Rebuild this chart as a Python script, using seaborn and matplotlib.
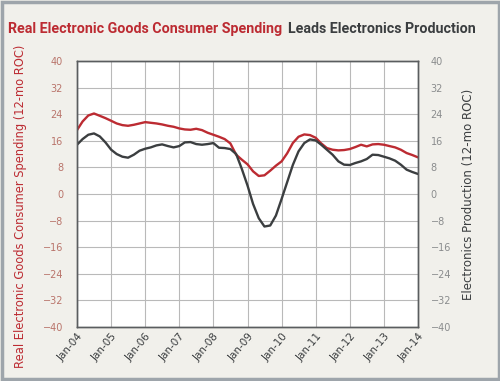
import pandas as pd
import numpy as np
import seaborn as sns
import matplotlib
matplotlib.use('Agg')
import matplotlib.pyplot as plt
import matplotlib.dates as mdates
from matplotlib.patches import Rectangle

sns.set_style('white')
plt.rcParams['font.family'] = ['DejaVu Sans']

# bimonthly readings, Jan-04 .. Jan-14 (12-mo rate of change, %)
months = pd.date_range('2004-01-01', '2014-01-01', freq='2MS')
spending = [19.2, 21.8, 23.6, 24.2, 23.5, 22.8, 22.0, 21.2, 20.7, 20.5,
            20.8, 21.2, 21.6, 21.4, 21.2, 20.9, 20.5, 20.2, 19.7, 19.4,
            19.3, 19.6, 19.2, 18.4, 17.8, 17.2, 16.5, 15.2, 11.8, 10.3,
            8.9, 6.8, 5.4, 5.6, 7.0, 8.5, 9.8, 12.2, 15.3, 17.2,
            17.9, 17.7, 16.9, 15.2, 13.8, 13.3, 13.1, 13.2, 13.5, 14.1,
            14.8, 14.3, 14.9, 15.0, 14.8, 14.4, 14.0, 13.3, 12.3, 11.7, 11.0]
production = [14.8, 16.5, 17.8, 18.2, 17.3, 15.5, 13.3, 12.0, 11.2, 10.9,
              11.8, 13.0, 13.6, 14.0, 14.6, 14.9, 14.4, 14.0, 14.4, 15.5,
              15.6, 15.0, 14.8, 15.0, 15.3, 13.9, 13.8, 13.5, 12.0, 7.5,
              2.5, -3.0, -7.3, -9.8, -9.5, -6.5, -1.5, 3.5, 8.7, 12.8,
              15.3, 16.4, 16.1, 14.8, 13.3, 11.8, 9.8, 8.8, 8.7, 9.3,
              9.8, 10.5, 11.8, 11.7, 11.2, 10.7, 10.0, 8.8, 7.3, 6.6, 6.0]
yticks = list(range(-40, 41, 8))

df = pd.DataFrame({'date': months, 'spending': spending, 'production': production})

red = '#bc2b32'
dark = '#3b3e40'
bg = '#f1f0eb'

fig = plt.figure(figsize=(5, 3.81), dpi=100)
fig.patch.set_facecolor(bg)
fig.patches.append(Rectangle((0.003, 0.004), 0.994, 0.992, transform=fig.transFigure,
                             fill=False, edgecolor='#9ea5ab', linewidth=2.5))

ax = fig.add_axes([0.154, 0.142, 0.682, 0.698])
ax.set_facecolor('white')
ax2 = ax.twinx()

sns.lineplot(ax=ax, x='date', y='spending', data=df, color=red, linewidth=1.7)
sns.lineplot(ax=ax2, x='date', y='production', data=df, color=dark, linewidth=1.7)

for a in (ax, ax2):
    a.set_ylim(-40, 40)
    a.set_yticks(yticks)
ax.set_xlim(pd.Timestamp('2004-01-01'), pd.Timestamp('2014-01-01'))
ax.xaxis.set_major_locator(mdates.YearLocator())
ax.xaxis.set_major_formatter(mdates.DateFormatter('%b-%y'))

ax.grid(True, color='#b9b9b9', linewidth=0.8)
ax.set_axisbelow(True)
ax2.grid(False)
for s in list(ax.spines.values()) + list(ax2.spines.values()):
    s.set_color('#5a5d5f')
    s.set_linewidth(1.0)

ax.tick_params(axis='y', labelcolor='#b9746b', labelsize=7, length=0, pad=10)
ax2.tick_params(axis='y', labelcolor='#8a8c8d', labelsize=7, length=0, pad=9)
ax.tick_params(axis='x', labelcolor=dark, labelsize=7.5, length=0, pad=3)
for lab in ax.get_xticklabels():
    lab.set_rotation(50)
    lab.set_ha('right')
    lab.set_rotation_mode('anchor')

ax.set_xlabel('')
ax.set_ylabel('Real Electronic Goods Consumer Spending (12-mo ROC)', color=red,
              fontsize=8.3)
ax.yaxis.set_label_coords(-0.146, 0.452)
ax2.set_ylabel('Electronics Production (12-mo ROC)', color=dark, fontsize=8.5, labelpad=8)

# two-colour title: place the dark part right after the red one
t1 = fig.text(0.016, 0.925, 'Real Electronic Goods Consumer Spending', color=red,
              fontsize=10.3, fontweight='bold', family='Roboto', ha='left', va='center')
fig.canvas.draw()
bb = t1.get_window_extent()
x2 = (bb.x1 + 6) / fig.bbox.width
fig.text(x2, 0.925, 'Leads Electronics Production', color=dark,
         fontsize=10.3, fontweight='bold', family='Roboto', ha='left', va='center')

fig.savefig('out.png', dpi=100, facecolor=bg)
